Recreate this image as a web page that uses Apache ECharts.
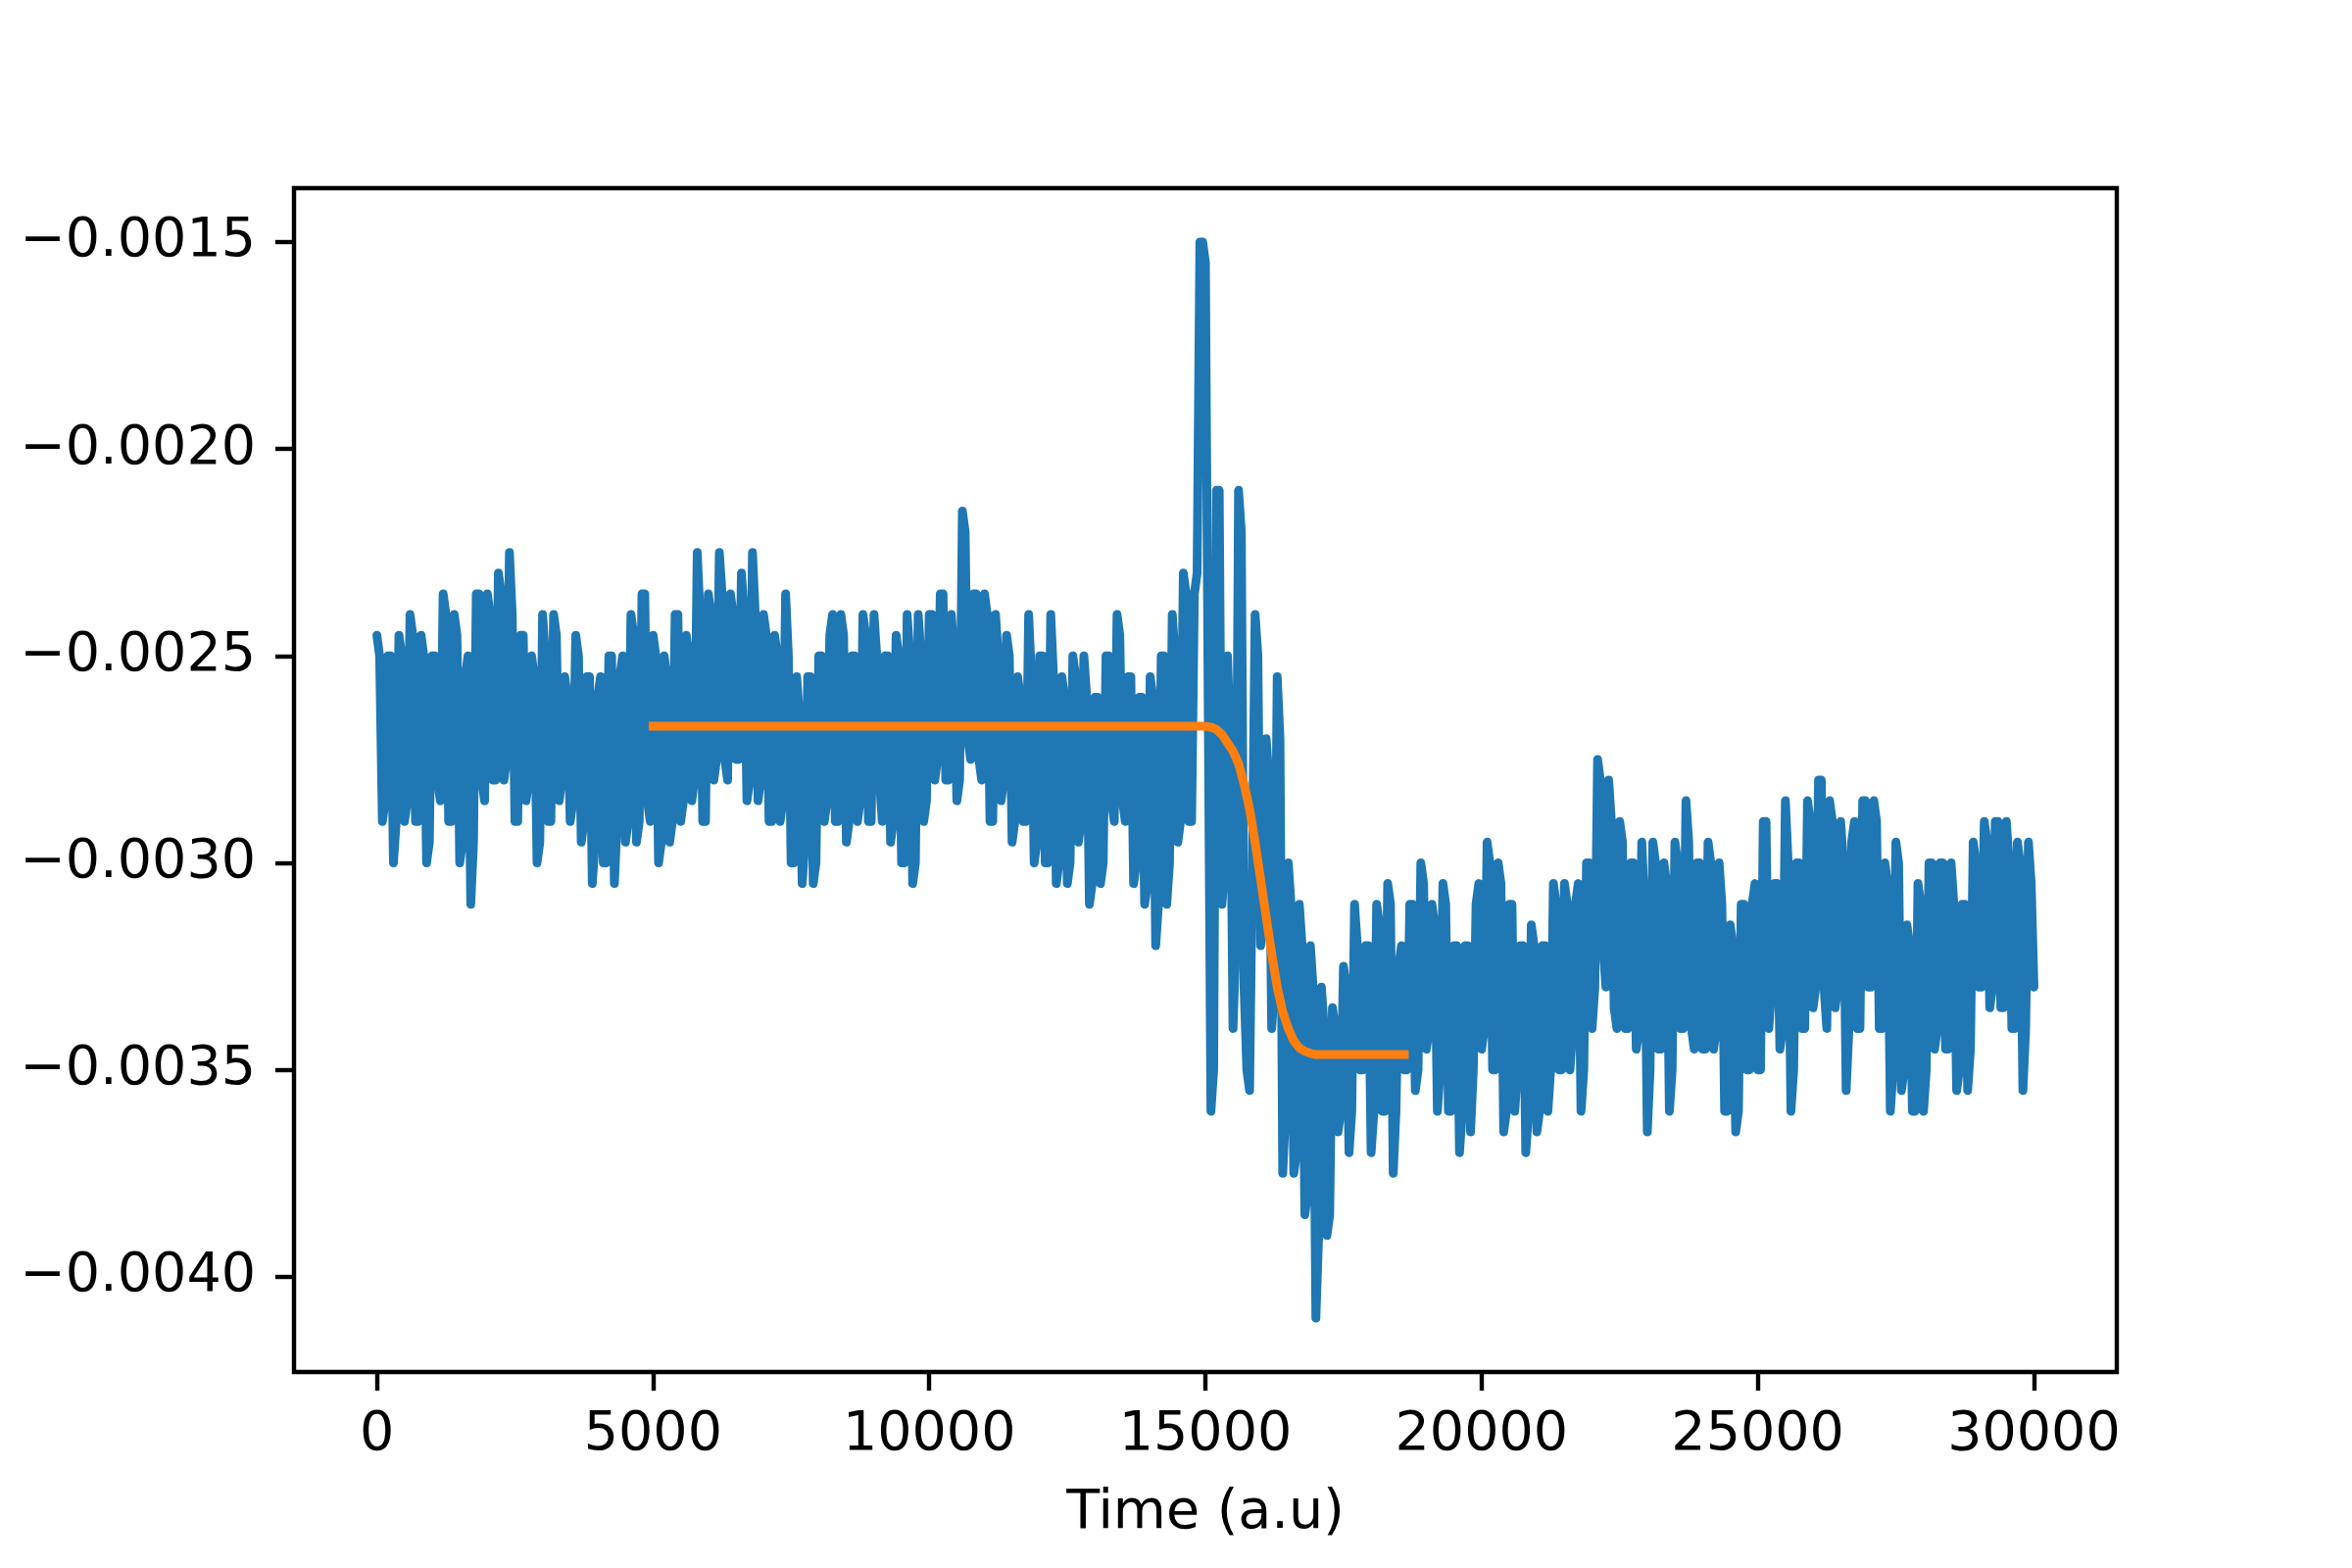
<!DOCTYPE html>
<html>
<head>
<meta charset="utf-8">
<script src="https://cdn.jsdelivr.net/npm/echarts@6/dist/echarts.min.js"></script>
<style>html,body{margin:0;padding:0;background:#fff}#c{width:2400px;height:1600px}</style>
</head>
<body>
<div id="c"></div>
<script>
// sampling grid of the measured signal (a.u.)
const timeStep = 50;
// measured signal, one value per timeStep starting at t = 0 (one row = 1000 a.u.)
const signal = [
 -0.00245,-0.0025,-0.0029,-0.00285,-0.0025,-0.0025,-0.0030,-0.0029,-0.00245,-0.0025,-0.0029,-0.00285,-0.0024,-0.00245,-0.0029,-0.0029,-0.00245,-0.0025,-0.0030,-0.00295,
 -0.0025,-0.0025,-0.0028,-0.00285,-0.00235,-0.0024,-0.0029,-0.0029,-0.0024,-0.00245,-0.0030,-0.00295,-0.00255,-0.0025,-0.0031,-0.00295,-0.00235,-0.00235,-0.0028,-0.00285,
 -0.00235,-0.0024,-0.0028,-0.0028,-0.0023,-0.00235,-0.0028,-0.00275,-0.00225,-0.0024,-0.0029,-0.0029,-0.00245,-0.00245,-0.00285,-0.0028,-0.0025,-0.00255,-0.0030,-0.00295,
 -0.0024,-0.0025,-0.0029,-0.0029,-0.0024,-0.00245,-0.00285,-0.0028,-0.00255,-0.0026,-0.0029,-0.00285,-0.00245,-0.0025,-0.00295,-0.0029,-0.00255,-0.00255,-0.00305,-0.00295,
 -0.0026,-0.00255,-0.0030,-0.0030,-0.0025,-0.0025,-0.00305,-0.0029,-0.00255,-0.0025,-0.00295,-0.0029,-0.0024,-0.00245,-0.00295,-0.0029,-0.00235,-0.00235,-0.00285,-0.0029,
 -0.00245,-0.0025,-0.0030,-0.00295,-0.0025,-0.00255,-0.00295,-0.0029,-0.0024,-0.0024,-0.0029,-0.00285,-0.00245,-0.0025,-0.00285,-0.0028,-0.00225,-0.0024,-0.0029,-0.0029,
 -0.00235,-0.0024,-0.0028,-0.00275,-0.00225,-0.00235,-0.00275,-0.0028,-0.00235,-0.0024,-0.00275,-0.00275,-0.0023,-0.0024,-0.00285,-0.0028,-0.00225,-0.0024,-0.00285,-0.0028,
 -0.0024,-0.00245,-0.0029,-0.0029,-0.00245,-0.0025,-0.0029,-0.00285,-0.00235,-0.0025,-0.0030,-0.0030,-0.00255,-0.00265,-0.00305,-0.00295,-0.00255,-0.00255,-0.00305,-0.0030,
 -0.0025,-0.0025,-0.0029,-0.00285,-0.00245,-0.0024,-0.0029,-0.0029,-0.0024,-0.00245,-0.00295,-0.0029,-0.0025,-0.0025,-0.0029,-0.00285,-0.0024,-0.00245,-0.0029,-0.0029,
 -0.0024,-0.0025,-0.0028,-0.0029,-0.0025,-0.0025,-0.00295,-0.0029,-0.00245,-0.0025,-0.0030,-0.0030,-0.0024,-0.0025,-0.00305,-0.0030,-0.0024,-0.0025,-0.0029,-0.00285,
 -0.0024,-0.0024,-0.0028,-0.00275,-0.00235,-0.00235,-0.0028,-0.0028,-0.0024,-0.0025,-0.00285,-0.0028,-0.00215,-0.0022,-0.0027,-0.00275,-0.00235,-0.00235,-0.00275,-0.0028,
 -0.00235,-0.0024,-0.0029,-0.0029,-0.0024,-0.0025,-0.00285,-0.0028,-0.00245,-0.0025,-0.00295,-0.0029,-0.00255,-0.0026,-0.0029,-0.0029,-0.0024,-0.00255,-0.0030,-0.00295,
 -0.0025,-0.0025,-0.0030,-0.0030,-0.0024,-0.00255,-0.00305,-0.0030,-0.00255,-0.0026,-0.00305,-0.0030,-0.0025,-0.00255,-0.00295,-0.0029,-0.0025,-0.0026,-0.0031,-0.00305,
 -0.0026,-0.0026,-0.00305,-0.0030,-0.0025,-0.0025,-0.00285,-0.0029,-0.0024,-0.00245,-0.00285,-0.0029,-0.00255,-0.00255,-0.00305,-0.0030,-0.0026,-0.0026,-0.0031,-0.00305,
 -0.00255,-0.0026,-0.0032,-0.0031,-0.0025,-0.0025,-0.0031,-0.0030,-0.0024,-0.0025,-0.00295,-0.0029,-0.0023,-0.00235,-0.0029,-0.0029,-0.00235,-0.0023,-0.0015,-0.0015,
 -0.00155,-0.0026,-0.0036,-0.0035,-0.0021,-0.0021,-0.0031,-0.0030,-0.0025,-0.0027,-0.0034,-0.0032,-0.0021,-0.0022,-0.0033,-0.0035,-0.00355,-0.0030,-0.0024,-0.0025,
 -0.0032,-0.0031,-0.0027,-0.0028,-0.0034,-0.0033,-0.00255,-0.0027,-0.00375,-0.0036,-0.0030,-0.0031,-0.00375,-0.0037,-0.0031,-0.0032,-0.00385,-0.0038,-0.0032,-0.0033,
 -0.0041,-0.0039,-0.0033,-0.0034,-0.0039,-0.00385,-0.00335,-0.0034,-0.00365,-0.0036,-0.00325,-0.0033,-0.0037,-0.0036,-0.0031,-0.0032,-0.0035,-0.0035,-0.0032,-0.0032,
 -0.0037,-0.0036,-0.0031,-0.00315,-0.0036,-0.0036,-0.00305,-0.0031,-0.00375,-0.0036,-0.00325,-0.0032,-0.0035,-0.0035,-0.0031,-0.0031,-0.00355,-0.0035,-0.0030,-0.00305,
 -0.00345,-0.0034,-0.0031,-0.00315,-0.0036,-0.0035,-0.00305,-0.0031,-0.0036,-0.0036,-0.0032,-0.0032,-0.0037,-0.0036,-0.0032,-0.0032,-0.00365,-0.0035,-0.0031,-0.00305,
 -0.00345,-0.0034,-0.00295,-0.0030,-0.0035,-0.0035,-0.0030,-0.00305,-0.00365,-0.0036,-0.0031,-0.0031,-0.0036,-0.0035,-0.0032,-0.0032,-0.0037,-0.0036,-0.00315,-0.0032,
 -0.00365,-0.0036,-0.0032,-0.0032,-0.0036,-0.0035,-0.00305,-0.0031,-0.0035,-0.0035,-0.00305,-0.0031,-0.0035,-0.0034,-0.0031,-0.00305,-0.0036,-0.0035,-0.0030,-0.0030,
 -0.0034,-0.0033,-0.00275,-0.0028,-0.0032,-0.0033,-0.0028,-0.0029,-0.00335,-0.0034,-0.0029,-0.00295,-0.0034,-0.0034,-0.0030,-0.0030,-0.00345,-0.0034,-0.00295,-0.0031,
 -0.00365,-0.0035,-0.00295,-0.0030,-0.00345,-0.00345,-0.0030,-0.00305,-0.0036,-0.0035,-0.00295,-0.0030,-0.0034,-0.0034,-0.00285,-0.00295,-0.0034,-0.00345,-0.0030,-0.0030,
 -0.00345,-0.00345,-0.00295,-0.0030,-0.00345,-0.0034,-0.0030,-0.0031,-0.0036,-0.0036,-0.00315,-0.0032,-0.00365,-0.0036,-0.0031,-0.0031,-0.0035,-0.0035,-0.0031,-0.00305,
 -0.0035,-0.0035,-0.0029,-0.0029,-0.0034,-0.0033,-0.00305,-0.00305,-0.00345,-0.0034,-0.00285,-0.0030,-0.0036,-0.0035,-0.0030,-0.0030,-0.0034,-0.0034,-0.00285,-0.0029,
 -0.00335,-0.0033,-0.0028,-0.0028,-0.0033,-0.0034,-0.00285,-0.0029,-0.00335,-0.0033,-0.0029,-0.0030,-0.00355,-0.0034,-0.00295,-0.0029,-0.0034,-0.0034,-0.00285,-0.00285,
 -0.0033,-0.0033,-0.00285,-0.0029,-0.0034,-0.0034,-0.0030,-0.00305,-0.0036,-0.0035,-0.00295,-0.0030,-0.00355,-0.0035,-0.00315,-0.0032,-0.0036,-0.0036,-0.00305,-0.0031,
 -0.0036,-0.0035,-0.0030,-0.0030,-0.00345,-0.0034,-0.0030,-0.0030,-0.00345,-0.00345,-0.0030,-0.0031,-0.00355,-0.0035,-0.0031,-0.0031,-0.00355,-0.00345,-0.00295,-0.0030,
 -0.0033,-0.0033,-0.0029,-0.00295,-0.00335,-0.0033,-0.0029,-0.0029,-0.00335,-0.00335,-0.0029,-0.0030,-0.0034,-0.0034,-0.00295,-0.0030,-0.00355,-0.0034,-0.00295,-0.00305,
 -0.0033
];
// fitted step curve
const fitTime = [5000,15000,15100,15200,15300,15400,15500,15600,15700,15800,15900,16000,16100,16200,16300,16400,16500,16600,16700,16800,16900,17000,18600];
const fitValue = [-0.00267,-0.00267,-0.002672,-0.002678,-0.00269,-0.00271,-0.00273,-0.00276,-0.00281,-0.00287,-0.00295,-0.00304,-0.00313,-0.00322,-0.0033,-0.00336,-0.0034,-0.00343,-0.003447,-0.003455,-0.00346,-0.003463,-0.003463];
// tick labels
const xTicks = [0,5000,10000,15000,20000,25000,30000];
const yTicks = [-0.004,-0.0035,-0.003,-0.0025,-0.002,-0.0015];

const signalData = signal.map((v, i) => [i * timeStep, v]);
const fitData = fitTime.map((t, i) => [t, fitValue[i]]);
const font = 'DejaVu Sans';
const fmtY = v => (v < 0 ? '\u2212' : '') + Math.abs(v).toFixed(4);

const chart = echarts.init(document.getElementById('c'), null, {renderer: 'canvas', width: 2400, height: 1600});
chart.setOption({
  animation: false,
  backgroundColor: '#ffffff',
  grid: {left: 300, top: 192, width: 1860, height: 1208, show: true, borderColor: '#000', borderWidth: 4.4, backgroundColor: 'transparent', z: 10},
  xAxis: {
    type: 'value', min: -1500, max: 31500,
    name: 'Time (a.u)', nameLocation: 'middle', nameGap: 117,
    nameTextStyle: {fontFamily: font, fontSize: 55.5, color: '#000'},
    splitLine: {show: false},
    axisLine: {show: false, onZero: false},
    axisTick: {show: true, inside: false, length: 19, lineStyle: {color: '#000', width: 4.4}, customValues: xTicks},
    axisLabel: {customValues: xTicks, margin: 37, fontFamily: font, fontSize: 55.5, color: '#000', formatter: v => String(v)}
  },
  yAxis: {
    type: 'value', min: -0.00423, max: -0.00137,
    splitLine: {show: false},
    axisLine: {show: false, onZero: false},
    axisTick: {show: true, inside: false, length: 19, lineStyle: {color: '#000', width: 4.4}, customValues: yTicks},
    axisLabel: {customValues: yTicks, margin: 39, fontFamily: font, fontSize: 55.5, color: '#000', formatter: fmtY}
  },
  series: [
    {type: 'line', data: signalData, symbol: 'none', showSymbol: false, silent: true, z: 2,
     lineStyle: {color: '#1f77b4', width: 9, join: 'round', cap: 'round'}},
    {type: 'line', data: fitData, symbol: 'none', showSymbol: false, silent: true, z: 3,
     lineStyle: {color: '#ff7f0e', width: 9, join: 'round', cap: 'square'}}
  ]
});
</script>
</body>
</html>
